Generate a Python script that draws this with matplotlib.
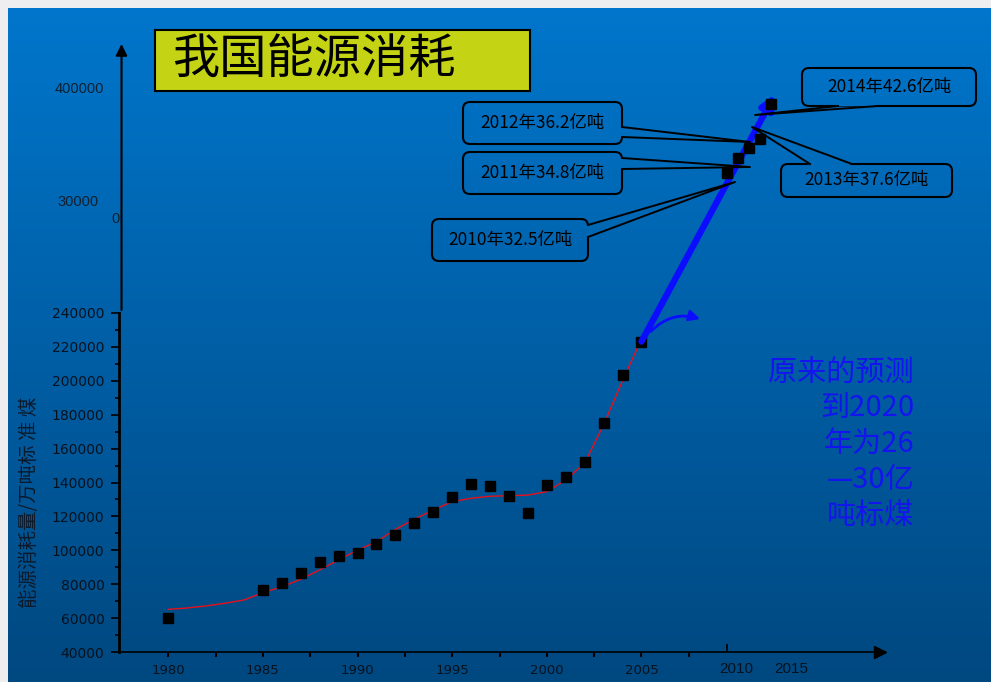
import numpy as np
import matplotlib
matplotlib.use('Agg')
import matplotlib.pyplot as plt
from matplotlib.patches import FancyBboxPatch, Rectangle, Polygon, FancyArrowPatch
from matplotlib.transforms import Affine2D, ScaledTranslation
from matplotlib.lines import Line2D

plt.rcParams['font.family'] = ['Noto Sans CJK SC', 'DejaVu Sans']

# energy consumption, 10k tonnes of standard coal
years = [1980, 1985, 1986, 1987, 1988, 1989, 1990, 1991, 1992, 1993, 1994,
         1995, 1996, 1997, 1998, 1999, 2000, 2001, 2002, 2003, 2004, 2005]
consumption = [60275, 76682, 80850, 86632, 92997, 96934, 98703, 103783, 109170,
               115993, 122737, 131176, 138948, 137798, 132214, 122000, 138553,
               143199, 151797, 174990, 203227, 223000]

# red fitted curve
trend_years = list(range(1980, 2006))
trend_vals = [65300, 66100, 67300, 68900, 70800, 75100, 78600, 83000, 88500, 94400,
              100200, 105100, 112400, 118300, 123800, 128700, 130700, 131900, 132200,
              132600, 134600, 141500, 151500, 174000, 200000, 224500]

# recent years shown on the upper (compressed) scale
top_years = [2010, 2011, 2012, 2013, 2014]
top_vals = [325000, 348000, 362000, 376000, 426000]

x_major = [1980, 1985, 1990, 1995, 2000, 2005]
x_minor = [1982.5, 1987.5, 1992.5, 1997.5, 2002.5, 2007.5]
y_major = list(range(40000, 240001, 20000))
y_minor = list(range(50000, 240000, 20000))

W, H = 991, 682
fig = plt.figure(figsize=(W / 100, H / 100), dpi=100, facecolor='#eeeef0')
# pixel coords with origin at top-left
PX = Affine2D().scale(1 / W, -1 / H).translate(0, 1) + fig.transFigure


def fr(x0, y0, x1, y1):
    return [x0 / W, 1 - y1 / H, (x1 - x0) / W, (y1 - y0) / H]


top_c = np.array([0, 118, 204]) / 255
bot_c = np.array([0, 72, 128]) / 255


def bg(y):
    t = (y - 8) / 674
    return tuple(top_c + (bot_c - top_c) * t)


# gradient background
bgax = fig.add_axes(fr(8, 8, W, H), zorder=-5)
grad = np.linspace(0, 1, 256)[:, None, None]
bgax.imshow(top_c + (bot_c - top_c) * grad, aspect='auto', extent=[0, 1, 0, 1])
bgax.axis('off')

# main axes
ax = fig.add_axes(fr(119, 312.7, 880, 652.3))
ax.patch.set_alpha(0)
ax.set_xlim(1977.4, 2017.6)
ax.set_ylim(40000, 240000)
ax.spines['top'].set_visible(False)
ax.spines['right'].set_visible(False)
ax.spines['left'].set_linewidth(2)
ax.spines['bottom'].set_linewidth(1.2)

ax.plot(trend_years, trend_vals, color='#e8101a', lw=1, zorder=2)
ax.plot(years, consumption, 's', color='k', ms=6.5, zorder=3)

ax.set_xticks(x_major)
ax.set_xticks(x_minor, minor=True)
ax.set_yticks(y_major)
ax.set_yticks(y_minor, minor=True)
ax.tick_params(axis='x', which='both', direction='out', length=3.5, width=1.5,
               labelsize=9.5, pad=5, labelcolor='#08121e')
ax.tick_params(axis='y', which='major', direction='out', length=5.5, width=1.2,
               labelsize=10, pad=5, labelcolor='#08121e')
ax.tick_params(axis='y', which='minor', direction='out', length=3, width=1.2)
for lbl in ax.get_xticklabels() + ax.get_yticklabels():
    lbl.set_family('DejaVu Sans')
ax.plot(1, 0, '>', color='k', ms=8, transform=ax.transAxes, clip_on=False)

# upper axes for the recent points
ax_top = fig.add_axes(fr(119, 45, 880, 312))
ax_top.set_xlim(1954.73, 2023.91)
ax_top.set_ylim(123100, 512300)
ax_top.axis('off')

lo0, lo1 = ax.get_xlim()
up0, up1 = ax_top.get_xlim()
k = (up1 - up0) / (lo1 - lo0)
sec = ax.secondary_xaxis('bottom', functions=(lambda x: up0 + (x - lo0) * k,
                                              lambda x: lo0 + (x - up0) / k))
sec.set_xticks([2010, 2015])
sec.tick_params(direction='in', length=6, width=1.2, pad=7, labelsize=11,
                labelcolor='#08121e')
sec.spines['bottom'].set_visible(False)
shift = ScaledTranslation(9 / 100, 0, fig.dpi_scale_trans)
for lbl in sec.get_xticklabels():
    lbl.set_family('Liberation Sans')
    lbl.set_transform(lbl.get_transform() + shift)
sec.xaxis.get_major_ticks()[1].tick1line.set_visible(False)

# big blue arrow from 2005 up to the recent points
ax_top.annotate('', xy=(2014.36, 440400), xycoords='data',
                xytext=(2005, 223000), textcoords=ax.transData,
                arrowprops=dict(arrowstyle='-|>', color='#0c0cff', lw=4.6,
                                mutation_scale=20, shrinkA=0, shrinkB=0))
ax.annotate('', xy=(2008.1, 236300), xytext=(2005.5, 229000),
            arrowprops=dict(arrowstyle='-|>', color='#0c0cff', lw=2,
                            mutation_scale=16, connectionstyle='arc3,rad=-0.3',
                            shrinkA=0, shrinkB=0), annotation_clip=False)
ax_top.plot(top_years, top_vals, 's', color='k', ms=6.5, zorder=5)

# upper vertical axis
fig.add_artist(FancyArrowPatch((121.5, 310), (121.5, 44), transform=PX,
                               arrowstyle='-|>', color='k', lw=1.5,
                               mutation_scale=17, shrinkA=0, shrinkB=0))
fig.text(104, 89, '400000', transform=PX, ha='right', va='center',
         fontsize=10.5, family='Liberation Sans', color='#12202f')
fig.text(99, 202, '30000', transform=PX, ha='right', va='center',
         fontsize=10.5, family='Liberation Sans', color='#12202f')
fig.text(111, 219, '0', transform=PX, ha='left', va='center',
         fontsize=10.5, family='Liberation Sans', color='#12202f')

# callouts
def callout(text, box, base, tip, inward):
    x0, y0, x1, y1 = box
    fig.add_artist(FancyBboxPatch((x0, y0), x1 - x0, y1 - y0,
                                  boxstyle='round,pad=0,rounding_size=7',
                                  transform=PX, fc='none', ec='k', lw=1.5))
    dx, dy = inward
    pts = []
    for bx, by in base:
        d = np.hypot(tip[0] - bx, tip[1] - by)
        pts.append(((bx + dx * 2, by + dy * 2),
                    (bx + (tip[0] - bx) * 4 / d, by + (tip[1] - by) * 4 / d)))
    poly = [pts[0][0], pts[0][1], pts[1][1], pts[1][0]]
    ymid = (base[0][1] + base[1][1]) / 2
    fig.add_artist(Polygon(poly, closed=True, transform=PX, fc=bg(ymid), ec='none'))
    fig.add_artist(Line2D([base[0][0], tip[0], base[1][0]],
                          [base[0][1], tip[1], base[1][1]],
                          transform=PX, color='k', lw=1.4))
    fig.text((x0 + x1) / 2, (y0 + y1) / 2, text, transform=PX, ha='center',
             va='center', fontsize=12.5, color='k')


labels = [f'{y}年{v / 10000:.1f}亿吨' for y, v in zip(top_years, top_vals)]
callout(labels[4], (802, 68, 976, 106), [(838, 106), (878, 106)], (755, 115), (0, -1))
callout(labels[2], (463, 102, 622, 144), [(622, 127), (622, 137)], (750, 142), (-1, 0))
callout(labels[1], (463, 152, 622, 194), [(622, 158), (622, 169)], (750, 167), (-1, 0))
callout(labels[0], (432, 219, 588, 261), [(588, 225), (588, 237)], (735, 182), (-1, 0))
callout(labels[3], (781, 164, 952, 197), [(810, 164), (852, 164)], (752, 127), (0, 1))

# title
fig.add_artist(Rectangle((155, 30), 375, 61, transform=PX, fc='#c4d414', ec='k', lw=1.5))
fig.text(172, 60, '我国能源消耗', transform=PX, ha='left', va='center',
         fontsize=34, color='k')

fig.text(914, 444, '原来的预测\n到2020\n年为26\n—30亿\n吨标煤', transform=PX,
         ha='right', va='center', ma='right', fontsize=21, color='#1414ee',
         linespacing=1.25)

fig.text(30, 502, '能源消耗量/万吨标 准 煤', transform=PX, rotation=90,
         ha='center', va='center', fontsize=14, color='#0d1a2b')

fig.savefig('out.png', dpi=100)
